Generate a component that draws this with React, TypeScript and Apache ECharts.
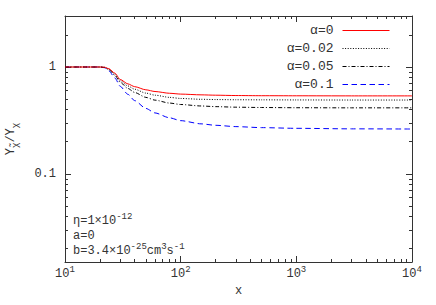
import React, { useEffect, useRef } from 'react';
import * as echarts from 'echarts';

const FONT = "'Liberation Mono', 'Courier New', 'DejaVu Sans Mono', monospace";
const TEXT = '#333';

const xValues = [10, 20, 22, 24, 27, 30, 35, 40, 50, 60, 80, 100, 150, 200, 300, 500, 1000, 3000, 10000];
const alpha0 = [1, 1, 0.995, 0.962, 0.875, 0.765, 0.695, 0.655, 0.612, 0.59, 0.568, 0.558, 0.549, 0.545, 0.541, 0.539, 0.538, 0.537, 0.537];
const alpha002 = [1, 1, 0.993, 0.955, 0.855, 0.745, 0.665, 0.62, 0.57, 0.545, 0.52, 0.508, 0.499, 0.496, 0.494, 0.493, 0.492, 0.491, 0.491];
const alpha005 = [1, 1, 0.99, 0.945, 0.835, 0.72, 0.63, 0.578, 0.52, 0.49, 0.46, 0.446, 0.432, 0.426, 0.421, 0.418, 0.416, 0.415, 0.415];
const alpha01 = [1, 1, 0.985, 0.92, 0.79, 0.66, 0.555, 0.485, 0.41, 0.372, 0.335, 0.315, 0.294, 0.285, 0.277, 0.271, 0.267, 0.264, 0.263];

const seriesNames = ['α=0', 'α=0.02', 'α=0.05', 'α=0.1'];
const seriesColors = ['#ff0000', '#000000', '#000000', '#0000ff'];
const seriesDash: any[] = ['solid', [1, 1.6], [4, 2, 1, 2], [5.5, 3.5]];

const xMajorTicks = [10, 100, 1000, 10000];
const xMinorTicks = [20, 30, 40, 50, 60, 70, 80, 90, 200, 300, 400, 500, 600, 700, 800, 900, 2000, 3000, 4000, 5000, 6000, 7000, 8000, 9000];
const yMajorTicks = [0.1, 1];
const yMinorTicks = [0.02, 0.03, 0.04, 0.05, 0.06, 0.07, 0.08, 0.09, 0.2, 0.3, 0.4, 0.5, 0.6, 0.7, 0.8, 0.9, 2];

const X_MIN = 10, X_MAX = 10000, Y_MIN = 0.015, Y_MAX = 3;

export default function App() {
  const ref = useRef<HTMLDivElement>(null);
  useEffect(() => {
    document.body.style.margin = '0';
    const chart = echarts.init(ref.current!, null, { renderer: 'svg' });
    const lineColor = '#333';
    const baseAxis = {
      type: 'log',
      logBase: 10,
      splitLine: { show: false },
      minorTick: { show: false },
      minorSplitLine: { show: false },
    };
    const mkX = (pos: string, major: boolean, labels: boolean) => ({
      ...baseAxis,
      min: X_MIN,
      max: X_MAX,
      position: pos,
      axisLine: { show: major, onZero: false, lineStyle: { color: lineColor, width: 1 } },
      axisTick: {
        show: true,
        inside: true,
        length: major ? 6 : 3,
        customValues: major ? xMajorTicks : xMinorTicks,
        lineStyle: { color: lineColor, width: 1 },
      },
      axisLabel: labels
        ? {
            show: true,
            customValues: xMajorTicks,
            margin: 3,
            formatter: (v: number) => `{n|10}{s|${Math.round(Math.log10(v))}}`,
            rich: {
              n: { fontFamily: FONT, fontSize: 12, color: TEXT, lineHeight: 18 },
              s: { fontFamily: FONT, fontSize: 9, color: TEXT, verticalAlign: 'top', lineHeight: 9 },
            },
          }
        : { show: false },
      ...(labels
        ? {
            name: 'x',
            nameLocation: 'middle',
            nameGap: 19,
            nameTextStyle: { fontFamily: FONT, fontSize: 12, color: TEXT },
          }
        : {}),
    });
    const mkY = (pos: string, major: boolean, labels: boolean) => ({
      ...baseAxis,
      min: Y_MIN,
      max: Y_MAX,
      position: pos,
      axisLine: { show: major, onZero: false, lineStyle: { color: lineColor, width: 1 } },
      axisTick: {
        show: true,
        inside: true,
        length: major ? 6 : 3,
        customValues: major ? yMajorTicks : yMinorTicks,
        lineStyle: { color: lineColor, width: 1 },
      },
      axisLabel: labels
        ? {
            show: true,
            customValues: yMajorTicks,
            margin: 9,
            formatter: (v: number) => (v >= 1 ? '1' : '0.1'),
            fontFamily: FONT,
            fontSize: 12,
            color: TEXT,
          }
        : { show: false },
      ...(labels
        ? {
            name: '{n|Y}{s|χ̃}{n|/Y}{s|χ}',
            nameLocation: 'middle',
            nameGap: 45,
            nameTextStyle: {
              rich: {
                n: { fontFamily: FONT, fontSize: 12, color: TEXT, lineHeight: 18 },
                s: { fontFamily: FONT, fontSize: 9, color: TEXT, verticalAlign: 'bottom', lineHeight: 9 },
              },
            },
          }
        : {}),
    });

    const series = [alpha0, alpha002, alpha005, alpha01].map((arr, i) => ({
      name: seriesNames[i],
      type: 'line',
      xAxisIndex: 0,
      yAxisIndex: 0,
      data: xValues.map((x, j) => [x, arr[j]]),
      symbol: 'none',
      smooth: 0.25,
      smoothMonotone: 'x',
      lineStyle: { color: seriesColors[i], width: 1, type: seriesDash[i] },
      itemStyle: { color: seriesColors[i] },
      z: 10 - i,
    }));

    const rich = {
      n: { fontFamily: FONT, fontSize: 12, fill: TEXT, lineHeight: 18 },
      s: { fontFamily: FONT, fontSize: 9, fill: TEXT, verticalAlign: 'top', lineHeight: 9 },
    } as any;

    chart.setOption({
      animation: false,
      backgroundColor: '#fff',
      grid: { left: 65, right: 24, top: 16, bottom: 43, outerBoundsMode: 'none' } as any,
      xAxis: [mkX('bottom', true, true), mkX('top', true, false), mkX('bottom', false, false), mkX('top', false, false)],
      yAxis: [mkY('left', true, true), mkY('right', true, false), mkY('left', false, false), mkY('right', false, false)],
      legend: {
        orient: 'vertical',
        right: 41,
        top: 19,
        align: 'right',
        itemWidth: 47,
        itemHeight: 11,
        itemGap: 5,
        data: seriesNames,
        itemStyle: { opacity: 0, borderWidth: 0 },
        lineStyle: { width: 1, color: 'inherit', type: 'inherit' },
        textStyle: { fontFamily: FONT, fontSize: 13, color: TEXT, padding: [0, 4, 0, 0] },
      },
      graphic: [
        { type: 'text', x: 73, y: 221, style: { text: '{n|η=1×10}{s|-12}', rich, verticalAlign: 'middle' } },
        { type: 'text', x: 73, y: 236, style: { text: '{n|a=0}', rich, verticalAlign: 'middle' } },
        { type: 'text', x: 73, y: 251, style: { text: '{n|b=3.4×10}{s|-25}{n|cm}{s|3}{n|s}{s|-1}', rich, verticalAlign: 'middle' } },
      ],
      series,
    } as any);
    return () => chart.dispose();
  }, []);
  return <div ref={ref} style={{ position: 'absolute', left: 0, top: 0, width: 436, height: 305 }} />;
}
